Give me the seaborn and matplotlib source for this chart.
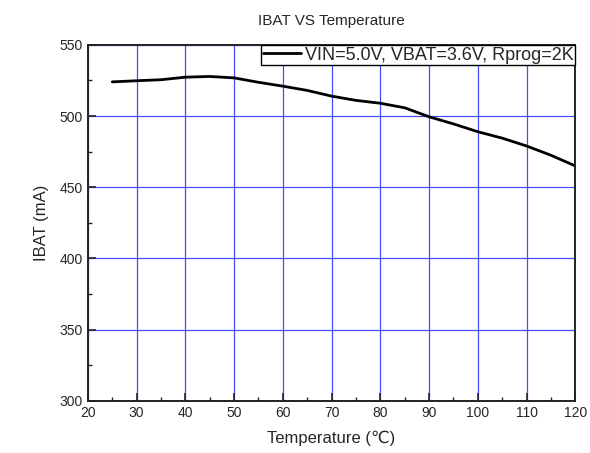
import numpy as np
import pandas as pd
import seaborn as sns
import matplotlib.pyplot as plt
from matplotlib.ticker import MultipleLocator

# values
temperature = [25, 30, 35, 40, 45, 50, 55, 60, 65, 70, 75, 80, 85, 90, 95, 100, 105, 110, 115, 120]
ibat = [524.0, 524.8, 525.5, 527.3, 527.8, 526.8, 523.7, 521.0, 518.0, 514.0,
        511.0, 509.0, 505.8, 499.5, 494.5, 489.0, 484.5, 479.0, 472.5, 465.0]
series_label = "VIN=5.0V, VBAT=3.6V, Rprog=2K"

df = pd.DataFrame({"Temperature": temperature, "IBAT": ibat, "cond": series_label})

sns.set_style("ticks")
plt.rcParams["font.family"] = ["Liberation Sans", "DejaVu Sans"]

fig = plt.figure(figsize=(5.9, 4.53), dpi=100)
ax = fig.add_axes([0.149, 0.115, 0.826, 0.786])

sns.lineplot(data=df, x="Temperature", y="IBAT", hue="cond", palette=["black"],
             linewidth=2, ax=ax)

ax.set_xlim(20, 120)
ax.set_ylim(300, 550)
ax.xaxis.set_major_locator(MultipleLocator(10))
ax.xaxis.set_minor_locator(MultipleLocator(5))
ax.yaxis.set_major_locator(MultipleLocator(50))
ax.yaxis.set_minor_locator(MultipleLocator(25))
ax.grid(True, which="major", color="#4a4aff", linewidth=0.9)
ax.tick_params(which="major", direction="in", length=6, width=1.2, labelsize=10, top=False, right=False)
ax.tick_params(which="minor", direction="in", length=3, width=1.0, top=False, right=False)
for s in ax.spines.values():
    s.set_linewidth(1.4)
    s.set_color("#222222")

ax.set_xlabel("Temperature (\u2103)", fontsize=12, labelpad=8)
ax.set_ylabel("IBAT (mA)", fontsize=12, labelpad=8)
ax.set_title("IBAT VS Temperature", fontsize=11, pad=14)

leg = ax.legend(loc="upper right", fontsize=13, frameon=True, fancybox=False,
                borderaxespad=0, handlelength=2.1, borderpad=0.1, handletextpad=0.2)
leg.get_frame().set_edgecolor("black")
leg.get_frame().set_linewidth(1.0)
leg.get_frame().set_alpha(1)

fig.savefig("out.png", dpi=100)
